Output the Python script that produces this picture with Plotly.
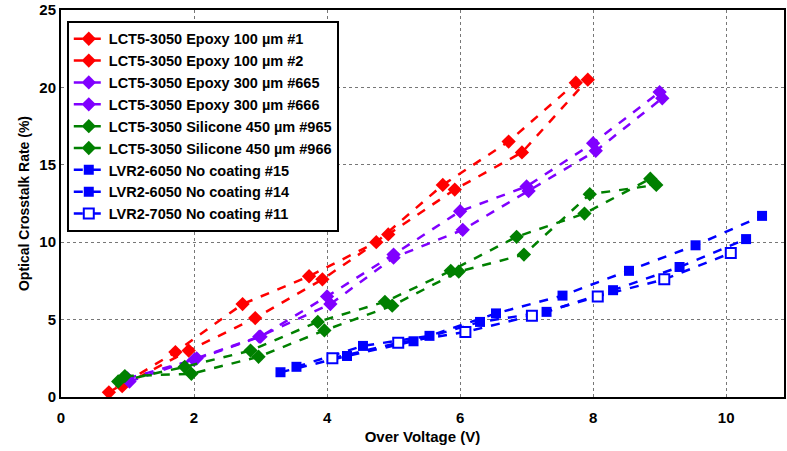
import plotly.graph_objects as go

# ---- data ----
red1_x = [0.72, 1.72, 2.73, 3.73, 4.74, 5.74, 6.73, 7.74]
red1_y = [0.3, 2.9, 6.0, 7.8, 10.0, 13.7, 16.5, 20.3]
red2_x = [0.92, 1.92, 2.92, 3.93, 4.92, 5.92, 6.93, 7.92]
red2_y = [0.7, 3.0, 5.1, 7.6, 10.5, 13.4, 15.8, 20.5]

pur1_x = [1.0, 2.0, 3.0, 4.0, 5.0, 6.0, 7.0, 8.0, 9.0]
pur1_y = [1.2, 2.4, 3.9, 6.5, 9.2, 12.0, 13.6, 16.4, 19.7]
pur2_x = [1.03, 2.04, 2.98, 4.05, 5.0, 6.04, 7.03, 8.04, 9.04]
pur2_y = [1.0, 2.5, 3.9, 6.0, 9.0, 10.8, 13.3, 15.9, 19.3]

grn1_x = [0.86, 1.86, 2.85, 3.86, 4.87, 5.86, 6.85, 7.87, 8.86]
grn1_y = [1.0, 1.95, 3.0, 4.85, 6.15, 8.15, 10.35, 11.85, 14.1]
grn2_x = [0.96, 1.96, 2.97, 3.96, 4.98, 5.98, 6.96, 7.95, 8.95]
grn2_y = [1.35, 1.5, 2.6, 4.3, 5.9, 8.1, 9.2, 13.1, 13.7]

blu15_x = [3.54, 4.54, 5.54, 6.54, 7.54, 8.54, 9.54, 10.54]
blu15_y = [1.95, 3.3, 3.95, 5.4, 6.55, 8.15, 9.8, 11.7]
blu14_x = [3.3, 4.3, 5.3, 6.3, 7.3, 8.3, 9.3, 10.3]
blu14_y = [1.6, 2.65, 3.6, 4.85, 5.5, 6.9, 8.4, 10.2]
blu11_x = [4.08, 5.07, 6.08, 7.08, 8.07, 9.07, 10.07]
blu11_y = [2.5, 3.5, 4.2, 5.25, 6.5, 7.6, 9.3]

names = [
    "LCT5-3050 Epoxy 100 µm #1",
    "LCT5-3050 Epoxy 100 µm #2",
    "LCT5-3050 Epoxy 300 µm #665",
    "LCT5-3050 Epoxy 300 µm #666",
    "LCT5-3050 Silicone 450 µm #965",
    "LCT5-3050 Silicone 450 µm #966",
    "LVR2-6050 No coating #15",
    "LVR2-6050 No coating #14",
    "LVR2-7050 No coating #11",
]
x_ticks = [0, 2, 4, 6, 8, 10]
y_ticks = [0, 5, 10, 15, 20, 25]

RED, PUR, GRN, BLU = "#FF0000", "#8000FF", "#008000", "#0000FF"

series = [
    (red1_x, red1_y, RED, "diamond", RED),
    (red2_x, red2_y, RED, "diamond", RED),
    (pur1_x, pur1_y, PUR, "diamond", PUR),
    (pur2_x, pur2_y, PUR, "diamond", PUR),
    (grn1_x, grn1_y, GRN, "diamond", GRN),
    (grn2_x, grn2_y, GRN, "diamond", GRN),
    (blu15_x, blu15_y, BLU, "square", BLU),
    (blu14_x, blu14_y, BLU, "square", BLU),
    (blu11_x, blu11_y, BLU, "square", "white"),
]

FONT = "Liberation Sans, Arial, sans-serif"

fig = go.Figure()
for (xs, ys, col, sym, fill), nm in zip(series, names):
    fig.add_trace(go.Scatter(
        x=xs, y=ys, name=nm, mode="lines+markers",
        line=dict(color=col, width=2.5, dash="dash"),
        marker=dict(symbol=sym, size=11 if sym == "diamond" else 10,
                    color=fill, line=dict(color=col, width=2 if fill == "white" else 0)),
    ))

fig.update_layout(
    width=787, height=451,
    margin=dict(l=61, r=1, t=10, b=54),
    plot_bgcolor="white", paper_bgcolor="white",
    font=dict(family=FONT, size=14, color="black"),
    legend=dict(
        x=0.008, y=0.972, xanchor="left", yanchor="top",
        bordercolor="black", borderwidth=2, bgcolor="white",
        font=dict(size=14.5, family=FONT, weight="bold"),
        tracegroupgap=0, itemwidth=30,
    ),
    showlegend=True,
)
fig.update_xaxes(
    range=[0, 10.87], tickvals=x_ticks,
    showgrid=True, gridcolor="#777777", griddash="dot", gridwidth=1,
    showline=True, linecolor="black", linewidth=2, mirror=True,
    zeroline=False, ticks="outside", ticklen=6, tickcolor="rgba(0,0,0,0)",
    tickfont=dict(size=15, weight="bold"),
    title=dict(text="Over Voltage (V)", font=dict(size=15, weight="bold"), standoff=6),
)
fig.update_yaxes(
    range=[0, 25], tickvals=y_ticks,
    showgrid=True, gridcolor="#777777", griddash="dot", gridwidth=1,
    showline=True, linecolor="black", linewidth=2, mirror=True,
    zeroline=False, ticks="", tickfont=dict(size=15, weight="bold"),
    title=dict(text="Optical Crosstalk Rate (%)", font=dict(size=14, weight="bold"), standoff=6),
)

fig.write_html("out.html")
